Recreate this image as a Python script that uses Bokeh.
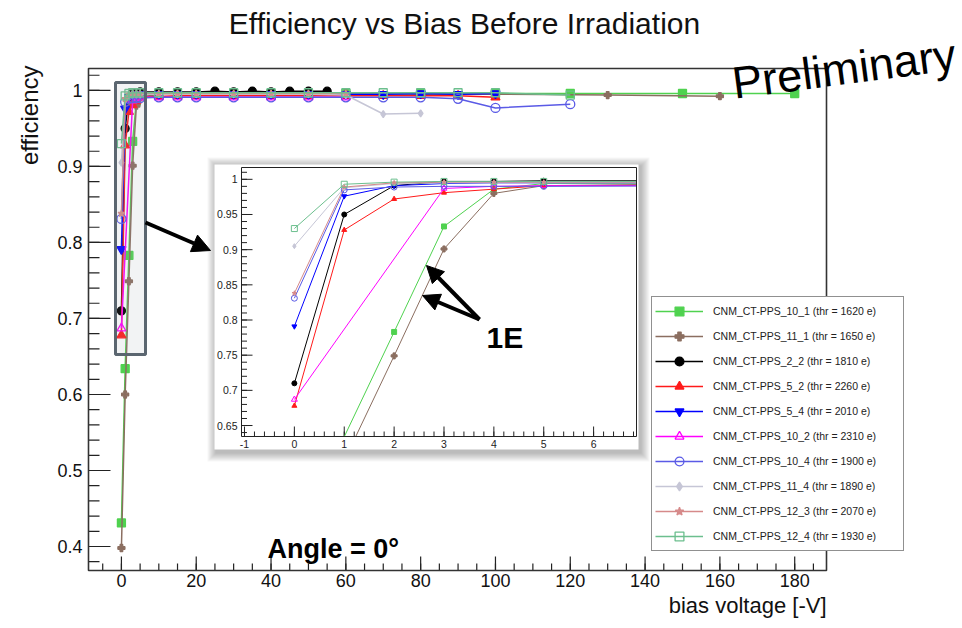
import numpy as np
from math import pi
from bokeh.plotting import figure
from bokeh.models import Range1d, Label, Arrow, NormalHead, Legend, LegendItem
from bokeh.embed import file_html
from bokeh.resources import INLINE

# ---------------- data ----------------
names = ["CNM_CT-PPS_10_1", "CNM_CT-PPS_11_1", "CNM_CT-PPS_2_2", "CNM_CT-PPS_5_2",
         "CNM_CT-PPS_5_4", "CNM_CT-PPS_10_2", "CNM_CT-PPS_10_4", "CNM_CT-PPS_11_4",
         "CNM_CT-PPS_12_3", "CNM_CT-PPS_12_4"]
thresholds = [1620, 1650, 1810, 2260, 2010, 2310, 1900, 1890, 2070, 1930]

bias_10_1 = [0, 1, 2, 3, 4, 5, 10, 20, 30, 40, 60, 80, 100, 120, 150, 180]
eff_10_1 = [0.431, 0.634, 0.783, 0.933, 0.986, 0.994, 0.995, 0.996, 0.996, 0.996, 0.996, 0.996, 0.996, 0.996, 0.996, 0.996]

bias_11_1 = [0, 1, 2, 3, 4, 5, 10, 20, 30, 40, 60, 80, 100, 130, 160]
eff_11_1 = [0.398, 0.600, 0.749, 0.901, 0.980, 0.991, 0.995, 0.996, 0.996, 0.996, 0.996, 0.995, 0.995, 0.994, 0.9925]

bias_2_2 = [0, 1, 2, 3, 4, 5, 10, 15, 20, 25, 30, 35, 40, 45, 50, 55]
eff_2_2 = [0.710, 0.950, 0.991, 0.997, 0.997, 0.998, 0.998, 0.998, 0.998, 0.999, 0.998, 0.999, 0.998, 0.999, 0.999, 0.999]

bias_5_2 = [0, 1, 2, 3, 4, 5, 10, 15, 20, 30, 40, 50, 60, 70, 80, 90, 100]
eff_5_2 = [0.678, 0.928, 0.972, 0.981, 0.986, 0.991, 0.992, 0.993, 0.993, 0.993, 0.993, 0.993, 0.993, 0.993, 0.993, 0.993, 0.991]

bias_5_4 = [0, 1, 2, 3, 4, 5, 10, 15, 20, 30, 40, 50, 60, 70, 80, 90, 100]
eff_5_4 = [0.791, 0.976, 0.991, 0.994, 0.995, 0.995, 0.995, 0.995, 0.995, 0.995, 0.995, 0.995, 0.995, 0.995, 0.996, 0.995, 0.996]

bias_10_2 = [0, 3, 4, 5, 10, 15, 20, 30, 40, 50, 60]
eff_10_2 = [0.687, 0.987, 0.990, 0.991, 0.991, 0.991, 0.991, 0.991, 0.991, 0.991, 0.991]

bias_10_4 = [0, 1, 2, 3, 4, 5, 10, 15, 20, 30, 40, 50, 60, 70, 80, 90, 100, 120]
eff_10_4 = [0.831, 0.985, 0.989, 0.990, 0.990, 0.990, 0.991, 0.991, 0.991, 0.991, 0.991, 0.991, 0.991, 0.991, 0.991, 0.989, 0.977, 0.982]

bias_11_4 = [0, 1, 2, 3, 4, 5, 10, 15, 20, 30, 40, 50, 60, 70, 80]
eff_11_4 = [0.905, 0.988, 0.994, 0.995, 0.995, 0.995, 0.995, 0.995, 0.995, 0.995, 0.995, 0.995, 0.994, 0.969, 0.970]

bias_12_3 = [0, 1, 2, 3, 4, 5, 10, 15, 20, 30, 40, 50, 60]
eff_12_3 = [0.838, 0.989, 0.995, 0.996, 0.996, 0.996, 0.996, 0.996, 0.996, 0.996, 0.996, 0.996, 0.996]

bias_12_4 = [0, 1, 2, 3, 4, 5, 10, 15, 20, 30, 40, 50, 60, 70, 80, 90, 100, 120]
eff_12_4 = [0.930, 0.993, 0.996, 0.997, 0.997, 0.997, 0.997, 0.997, 0.997, 0.997, 0.997, 0.997, 0.997, 0.997, 0.997, 0.997, 0.997, 0.994]

biases = [bias_10_1, bias_11_1, bias_2_2, bias_5_2, bias_5_4, bias_10_2, bias_10_4, bias_11_4, bias_12_3, bias_12_4]
effs = [eff_10_1, eff_11_1, eff_2_2, eff_5_2, eff_5_4, eff_10_2, eff_10_4, eff_11_4, eff_12_3, eff_12_4]

x_major_ticks = [0, 20, 40, 60, 80, 100, 120, 140, 160, 180]
y_major_ticks = [0.4, 0.5, 0.6, 0.7, 0.8, 0.9, 1.0]
inset_x_ticks = [-1, 0, 1, 2, 3, 4, 5, 6]
inset_y_ticks = [0.65, 0.7, 0.75, 0.8, 0.85, 0.9, 0.95, 1.0]

# ---------------- styles ----------------
colors = ["#4fd24f", "#8b6e60", "#000000", "#ff1a1a", "#0000ff", "#ff00ff",
          "#5a5ae6", "#c6c6d6", "#d68a8a", "#6cbf8e"]
markers = ["square", "plus", "circle", "triangle", "inverted_triangle", "triangle",
           "circle", "diamond", "star", "square"]
hollow = [False, False, False, False, False, True, True, False, False, True]
msize = [8, 7, 8, 9, 9, 9, 9, 7, 7, 8]
isize = [5, 6, 5, 5, 5, 6, 6, 5, 5, 6]

FONT = "Liberation Sans"
W, H = 962, 628
FL, FR, FT, FB = 88, 826, 68, 570          # main frame in pixels
X0, X1 = -8.8, 188.5
Y0, Y1 = 0.3684, 1.0289
SX = (X1 - X0) / (FR - FL)                 # data units per pixel
SY = (Y1 - Y0) / (FB - FT)


def px2x(px):
    return X0 + (px - FL) * SX


def py2y(py):
    return Y1 - (py - FT) * SY


# the plotting frame covers the whole canvas; the chart's frame and axes are drawn inside it
p = figure(width=W, height=H, x_range=Range1d(px2x(0), px2x(W)), y_range=Range1d(py2y(H), py2y(0)),
           output_backend="svg", toolbar_location=None, x_axis_location=None, y_axis_location=None,
           min_border=0, min_border_left=0, min_border_right=0, min_border_top=0, min_border_bottom=0)
p.title.visible = False
p.title.text = ""
p.background_fill_color = "white"
p.border_fill_color = "white"
p.outline_line_color = None
p.grid.visible = False

TC = "#222222"
# ---------------- main axes (ticks inward, ROOT style) ----------------
ymin_ticks = [v for v in np.round(np.arange(0.36, 1.04, 0.02), 2) if Y0 <= v <= Y1]
xmin_ticks = [v for v in np.arange(-5, 190, 5) if X0 <= v <= X1]
p.segment(x0=[X0] * len(ymin_ticks), y0=ymin_ticks, x1=[X0 + 11 * SX] * len(ymin_ticks), y1=ymin_ticks,
          line_color=TC, line_width=1.2)
p.segment(x0=[X0] * len(y_major_ticks), y0=y_major_ticks, x1=[X0 + 22 * SX] * len(y_major_ticks),
          y1=y_major_ticks, line_color=TC, line_width=1.2)
p.segment(x0=xmin_ticks, y0=[Y0] * len(xmin_ticks), x1=xmin_ticks, y1=[Y0 + 7 * SY] * len(xmin_ticks),
          line_color=TC, line_width=1.2)
p.segment(x0=x_major_ticks, y0=[Y0] * len(x_major_ticks), x1=x_major_ticks,
          y1=[Y0 + 14 * SY] * len(x_major_ticks), line_color=TC, line_width=1.2)
p.text(x=[px2x(FL - 6)] * len(y_major_ticks), y=y_major_ticks, text=[f"{v:g}" for v in y_major_ticks],
       text_align="right", text_baseline="middle", text_font_size="18px", text_color="#111111",
       text_font={"value": FONT})
p.text(x=x_major_ticks, y=[py2y(FB + 3)] * len(x_major_ticks), text=[f"{v:d}" for v in x_major_ticks],
       text_align="center", text_baseline="top", text_font_size="18px", text_color="#111111",
       text_font={"value": FONT})

# ---------------- main series ----------------
legend_items = []
for i in range(len(names)):
    lr = p.line(biases[i], effs[i], line_color=colors[i], line_width=1.5)
    sr = p.scatter(biases[i], effs[i], marker=markers[i], size=msize[i],
                   line_color=colors[i], fill_color=colors[i],
                   fill_alpha=0.0 if hollow[i] else 1.0, line_width=1.3)
    legend_items.append(LegendItem(label=f"{names[i]} (thr = {thresholds[i]} e)", renderers=[lr, sr]))

# main frame
p.quad(left=X0, right=X1, bottom=Y0, top=Y1, fill_alpha=0, line_color="#333333", line_width=1.6)

# highlight box around the low-bias region
p.quad(left=px2x(115), right=px2x(145), top=py2y(82), bottom=py2y(354),
       fill_color="#9aa4ab", fill_alpha=0.13, line_color="#5b6670", line_width=3)

# ---------------- inset (zoom of 0-7 V) ----------------
BL, BR, BT, BB = 214, 638, 164, 449          # inset picture box (px)
IL, IR, IT, IB = 241, 636, 167, 436          # inset frame (px)
IX0, IX1 = -1.06, 6.86
IY0, IY1 = 0.6344, 1.0168
sx = (IX1 - IX0) / (IR - IL)
sy = (IY1 - IY0) / (IB - IT)
p.extra_x_ranges = {"ix": Range1d(IX0 - IL * sx, IX1 + (W - IR) * sx)}
p.extra_y_ranges = {"iy": Range1d(IY0 - (H - IB) * sy, IY1 + IT * sy)}
R = dict(x_range_name="ix", y_range_name="iy")

# shadow + white background
for k in range(1, 10):
    p.quad(left=px2x(BL - k + 2), right=px2x(BR + k + 2), top=py2y(BT - k + 2), bottom=py2y(BB + k + 3),
           fill_color="black", fill_alpha=0.03, line_color=None)
p.quad(left=px2x(BL), right=px2x(BR), top=py2y(BT), bottom=py2y(BB), fill_color="white", line_color=None)

# inset ticks
iymin = [v for v in np.round(np.arange(0.64, 1.0201, 0.01), 3) if IY0 <= v <= IY1]
ixmin = [v for v in np.round(np.arange(-1.0, 6.81, 0.2), 2) if IX0 <= v <= IX1]
p.segment(x0=[IX0] * len(iymin), y0=iymin, x1=[IX0 + 5.5 * sx] * len(iymin), y1=iymin,
          line_color=TC, line_width=1, **R)
p.segment(x0=[IX0] * len(inset_y_ticks), y0=inset_y_ticks, x1=[IX0 + 11 * sx] * len(inset_y_ticks),
          y1=inset_y_ticks, line_color=TC, line_width=1, **R)
p.segment(x0=ixmin, y0=[IY0] * len(ixmin), x1=ixmin, y1=[IY0 + 5 * sy] * len(ixmin),
          line_color=TC, line_width=1, **R)
p.segment(x0=inset_x_ticks, y0=[IY0] * len(inset_x_ticks), x1=inset_x_ticks,
          y1=[IY0 + 10 * sy] * len(inset_x_ticks), line_color=TC, line_width=1, **R)


def clip_segment(xa, ya, xb, yb, xmin, xmax, ymin, ymax):
    dx, dy = xb - xa, yb - ya
    t0, t1 = 0.0, 1.0
    for pp, qq in ((-dx, xa - xmin), (dx, xmax - xa), (-dy, ya - ymin), (dy, ymax - ya)):
        if pp == 0:
            if qq < 0:
                return None
        else:
            t = qq / pp
            if pp < 0:
                if t > t1:
                    return None
                t0 = max(t0, t)
            else:
                if t < t0:
                    return None
                t1 = min(t1, t)
    return (xa + t0 * dx, ya + t0 * dy, xa + t1 * dx, ya + t1 * dy)


for i in range(len(names)):
    xs, ys = [], []
    b, e = biases[i], effs[i]
    for j in range(len(b) - 1):
        c = clip_segment(b[j], e[j], b[j + 1], e[j + 1], IX0, IX1, IY0, IY1)
        if c is not None:
            xs.append([c[0], c[2]])
            ys.append([c[1], c[3]])
    p.multi_line(xs, ys, line_color=colors[i], line_width=1, **R)
for i in range(len(names)):
    pts = [(bx, ey) for bx, ey in zip(biases[i], effs[i]) if IX0 <= bx <= IX1 and IY0 <= ey <= IY1]
    p.scatter([q[0] for q in pts], [q[1] for q in pts], marker=markers[i], size=isize[i],
              line_color=colors[i], fill_color=colors[i],
              fill_alpha=0.0 if hollow[i] else 1.0, line_width=1, **R)

# inset frame
p.quad(left=IX0, right=IX1, bottom=IY0, top=IY1, fill_alpha=0, line_color=TC, line_width=1, **R)

# inset tick labels
p.text(x=[IX0 - 4 * sx] * len(inset_y_ticks), y=inset_y_ticks, text=[f"{v:g}" for v in inset_y_ticks],
       text_align="right", text_baseline="middle", text_font_size="10.5px", text_color=TC,
       text_font={"value": FONT}, **R)
p.text(x=inset_x_ticks, y=[IY0 - 3 * sy] * len(inset_x_ticks), text=[f"{v:d}" for v in inset_x_ticks],
       text_align="center", text_baseline="top", text_font_size="10.5px", text_color=TC,
       text_font={"value": FONT}, **R)

# ---------------- arrows and annotations ----------------
p.add_layout(Arrow(x_start=px2x(145), y_start=py2y(222), x_end=px2x(210), y_end=py2y(250),
                   line_width=4, line_color="black",
                   end=NormalHead(size=18, fill_color="black", line_color="black")))
for (xe, ye) in ((426, 265), (422, 295)):
    p.add_layout(Arrow(x_start=px2x(479), y_start=py2y(319), x_end=px2x(xe), y_end=py2y(ye),
                       line_width=4, line_color="black",
                       end=NormalHead(size=17, fill_color="black", line_color="black")))

p.add_layout(Label(x=px2x(486), y=py2y(337), text="1E", text_font=FONT, text_font_size="30px",
                   text_font_style="bold", text_color="black", text_baseline="alphabetic"))
p.add_layout(Label(x=px2x(267), y=py2y(548), text="Angle = 0°", text_font=FONT, text_font_size="27px",
                   text_font_style="bold", text_color="black", text_baseline="alphabetic"))

# titles
p.add_layout(Label(x=px2x(464), y=py2y(23), text="Efficiency vs Bias Before Irradiation",
                   text_font=FONT, text_font_size="30px", text_color="#111111",
                   text_align="center", text_baseline="middle"))
p.add_layout(Label(x=px2x(29), y=py2y(65), text="efficiency", angle=pi / 2,
                   text_font=FONT, text_font_size="24px", text_color="#111111",
                   text_align="right", text_baseline="middle"))
p.add_layout(Label(x=px2x(826), y=py2y(605), text="bias voltage [-V]",
                   text_font=FONT, text_font_size="22px", text_color="#111111",
                   text_align="right", text_baseline="middle"))
p.add_layout(Label(x=px2x(732), y=py2y(83), text="Preliminary", angle=7.5 * pi / 180,
                   text_font=FONT, text_font_size="45px", text_color="black",
                   text_align="left", text_baseline="alphabetic"))

# legend
legend = Legend(items=legend_items, location=(651, H - 551), orientation="vertical",
                padding=3, margin=0, spacing=3, label_height=22, glyph_height=22, glyph_width=48,
                label_standoff=10, label_width=187,
                label_text_font=FONT, label_text_font_size="10.5px", label_text_color="#222222",
                border_line_color="#222222", border_line_width=1.5,
                background_fill_color="white", background_fill_alpha=1.0)
p.add_layout(legend)

open("out.html", "w").write(file_html(p, INLINE))
